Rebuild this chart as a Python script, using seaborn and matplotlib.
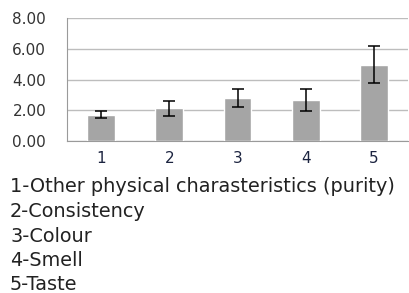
import matplotlib
matplotlib.use("Agg")
import matplotlib.pyplot as plt
import seaborn as sns
import pandas as pd
import numpy as np

categories = ["1", "2", "3", "4", "5"]
means = [1.70, 2.12, 2.80, 2.66, 4.97]
errors = [0.23, 0.48, 0.57, 0.72, 1.22]
yticks = [0, 2, 4, 6, 8]
legend_lines = [
    "1-Other physical charasteristics (purity)",
    "2-Consistency",
    "3-Colour",
    "4-Smell",
    "5-Taste",
]

sns.set_style("white")
plt.rcParams['font.family'] = ['DejaVu Sans']

W, H = 409, 293
fig = plt.figure(figsize=(W / 100, H / 100), dpi=100)
ax = fig.add_axes([67 / W, (H - 141) / H, 341 / W, 123 / H])

df = pd.DataFrame({"cat": categories, "val": means})
sns.barplot(data=df, x="cat", y="val", color="#a5a5a5", saturation=1,
            width=0.41, ax=ax, errorbar=None, zorder=3)
ax.errorbar(x=np.arange(len(categories)), y=means, yerr=errors, fmt="none",
            ecolor="black", elinewidth=1.1, capsize=4.5, capthick=1.1, zorder=4)

ax.set_xlim(-0.5, len(categories) - 0.5)
ax.set_ylim(0, 8)
ax.set_yticks(yticks)
ax.set_yticklabels([f"{v:.2f}" for v in yticks], fontsize=11, color="#333333")
ax.set_xticks(range(len(categories)))
ax.set_xticklabels(categories, fontsize=11, color="#1c2440")
ax.set_xlabel("")
ax.set_ylabel("")
ax.yaxis.grid(True, color="#bdbdbd", linewidth=1, zorder=0)
ax.set_axisbelow(True)
for s in ["top", "right"]:
    ax.spines[s].set_visible(False)
ax.spines["left"].set_color("#9a9a9a")
ax.spines["bottom"].set_color("#9a9a9a")
ax.tick_params(axis="y", length=5, color="#9a9a9a", pad=10)
ax.tick_params(axis="x", length=0, pad=7)
ax.set_xticks(np.arange(-0.5, len(categories), 1.0), minor=True)
ax.tick_params(axis="x", which="minor", length=4, color="#9a9a9a")

for i, line in enumerate(legend_lines):
    fig.text(10 / W, 1 - (187 + 24.5 * i) / H, line, fontsize=13.9,
             color="#222222", va="center", ha="left")

fig.savefig("out.png", dpi=100)
